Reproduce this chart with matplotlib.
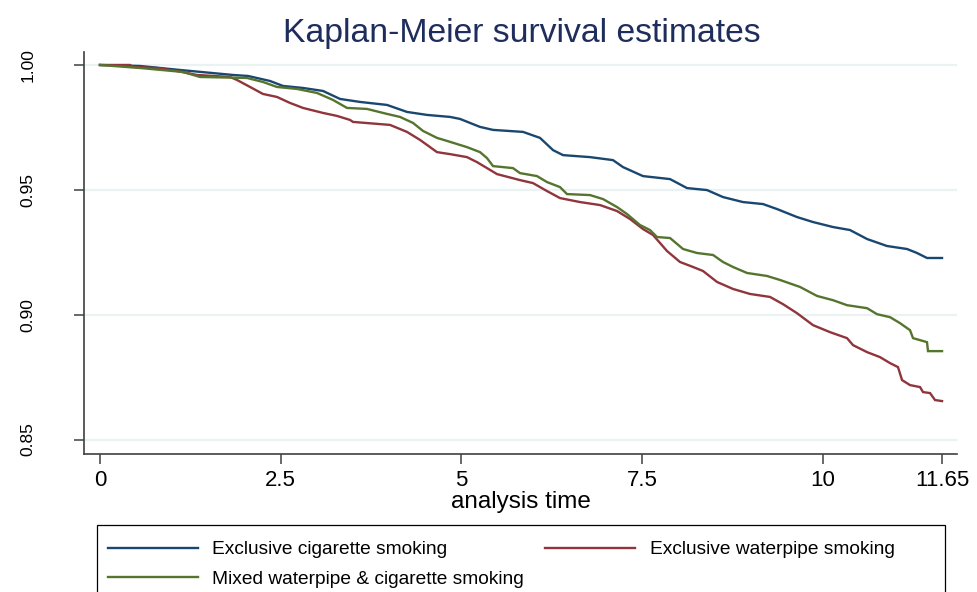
import matplotlib
matplotlib.use("Agg")
import matplotlib.pyplot as plt
from matplotlib.patches import Rectangle

plt.rcParams['font.family'] = ['Liberation Sans', 'DejaVu Sans']

# ---- data ----
cig_t = [0.000, 0.553, 1.107, 1.840, 2.047, 2.351, 2.531, 2.808, 3.084, 3.320, 3.596, 3.970,
         4.246, 4.523, 4.841, 4.979, 5.256, 5.436, 5.851, 6.086, 6.266, 6.404, 6.777, 7.095,
         7.234, 7.510, 7.884, 8.119, 8.396, 8.617, 8.893, 9.170, 9.364, 9.640, 9.862, 10.138,
         10.373, 10.609, 10.885, 11.162, 11.300, 11.438, 11.646]
cig_s = [1.0000, 0.9996, 0.9980, 0.9960, 0.9956, 0.9936, 0.9916, 0.9908, 0.9896, 0.9864, 0.9852, 0.9840,
         0.9812, 0.9800, 0.9792, 0.9784, 0.9752, 0.9740, 0.9732, 0.9708, 0.9659, 0.9639, 0.9631, 0.9619,
         0.9591, 0.9555, 0.9543, 0.9507, 0.9499, 0.9471, 0.9451, 0.9443, 0.9423, 0.9391, 0.9371, 0.9351,
         0.9339, 0.9303, 0.9275, 0.9263, 0.9247, 0.9227, 0.9227]

wp_t = [0.000, 0.415, 0.456, 0.788, 1.065, 1.342, 1.798, 1.895, 2.075, 2.254, 2.448, 2.628, 2.808,
        3.084, 3.278, 3.458, 3.499, 4.011, 4.246, 4.426, 4.661, 4.841, 5.076, 5.214, 5.353, 5.491,
        5.809, 5.989, 6.183, 6.362, 6.639, 6.916, 7.151, 7.331, 7.510, 7.649, 7.746, 7.842, 8.022,
        8.202, 8.340, 8.534, 8.755, 8.990, 9.267, 9.447, 9.640, 9.862, 10.097, 10.332, 10.415,
        10.609, 10.788, 10.927, 11.037, 11.093, 11.203, 11.342, 11.383, 11.480, 11.549, 11.646]
wp_s = [1.0000, 1.0000, 0.9992, 0.9988, 0.9976, 0.9960, 0.9952, 0.9940, 0.9912, 0.9884, 0.9872, 0.9848, 0.9828,
        0.9808, 0.9796, 0.9780, 0.9772, 0.9760, 0.9732, 0.9700, 0.9651, 0.9643, 0.9631, 0.9611, 0.9587, 0.9563,
        0.9539, 0.9527, 0.9495, 0.9467, 0.9451, 0.9439, 0.9415, 0.9383, 0.9343, 0.9319, 0.9287, 0.9255, 0.9211,
        0.9191, 0.9175, 0.9131, 0.9103, 0.9083, 0.9071, 0.9042, 0.9006, 0.8958, 0.8930, 0.8906, 0.8878,
        0.8850, 0.8830, 0.8806, 0.8790, 0.8738, 0.8718, 0.8710, 0.8690, 0.8686, 0.8658, 0.8654]

mix_t = [0.000, 0.553, 1.148, 1.383, 2.033, 2.254, 2.448, 2.725, 3.001, 3.223, 3.416, 3.693, 3.970,
         4.149, 4.329, 4.467, 4.661, 4.799, 5.076, 5.256, 5.353, 5.436, 5.712, 5.809, 6.044, 6.183,
         6.362, 6.459, 6.777, 6.957, 7.151, 7.289, 7.469, 7.607, 7.704, 7.884, 8.064, 8.257, 8.479,
         8.617, 8.755, 8.949, 9.225, 9.405, 9.682, 9.917, 10.138, 10.332, 10.609, 10.747, 10.927,
         11.065, 11.203, 11.245, 11.438, 11.452, 11.646]
mix_s = [1.0000, 0.9988, 0.9972, 0.9952, 0.9948, 0.9932, 0.9912, 0.9904, 0.9888, 0.9860, 0.9828, 0.9824, 0.9804,
         0.9792, 0.9768, 0.9736, 0.9708, 0.9696, 0.9671, 0.9651, 0.9627, 0.9595, 0.9587, 0.9567, 0.9555, 0.9531,
         0.9511, 0.9483, 0.9479, 0.9463, 0.9431, 0.9403, 0.9359, 0.9339, 0.9311, 0.9307, 0.9263, 0.9247, 0.9239,
         0.9211, 0.9191, 0.9167, 0.9155, 0.9139, 0.9111, 0.9075, 0.9058, 0.9038, 0.9026, 0.9002, 0.8990,
         0.8966, 0.8938, 0.8906, 0.8890, 0.8854, 0.8854]

labels = ["Exclusive cigarette smoking", "Exclusive waterpipe smoking",
          "Mixed waterpipe & cigarette smoking"]
colors = ["#1a476f", "#90353b", "#55752f"]

x_ticks = [0, 2.5, 5, 7.5, 10, 11.65]
x_ticklabels = ["0", "2.5", "5", "7.5", "10", "11.65"]
y_ticks = [0.85, 0.90, 0.95, 1.00]
y_ticklabels = ["0.85", "0.90", "0.95", "1.00"]

# ---- figure ----
W, H = 977, 592
fig = plt.figure(figsize=(W / 100, H / 100), dpi=100)
fig.patch.set_facecolor("white")
ax = fig.add_axes([84 / W, 1 - 454 / H, (957 - 84) / W, (454 - 52) / H])

for yv in y_ticks:
    ax.axhline(yv, color="#eaf2f3", lw=1.6, zorder=0)

handles = []
for t, s, c, lab in [(cig_t, cig_s, colors[0], labels[0]),
                     (wp_t, wp_s, colors[1], labels[1]),
                     (mix_t, mix_s, colors[2], labels[2])]:
    h, = ax.plot(t, s, color=c, lw=1.7, label=lab, zorder=3,
                 solid_joinstyle="miter")
    handles.append(h)

ax.set_xlim(-0.221, 11.853)
ax.set_ylim(0.8442, 1.0052)

for sp in ["top", "right"]:
    ax.spines[sp].set_visible(False)
for sp in ["left", "bottom"]:
    ax.spines[sp].set_color("#404040")
    ax.spines[sp].set_linewidth(1.2)

ax.set_xticks(x_ticks)
ax.set_xticklabels(x_ticklabels, fontsize=16)
ax.set_yticks(y_ticks)
ax.set_yticklabels(y_ticklabels, fontsize=12.5, rotation=90, va="center")
ax.tick_params(axis="x", length=7, width=1.1, color="#404040", pad=4.5)
ax.tick_params(axis="y", length=7, width=1.1, color="#404040", pad=28)

fig.text(522 / W, 1 - 42 / H, "Kaplan-Meier survival estimates", ha="center",
         va="baseline", fontsize=24.3, color="#1f2d5c")
fig.text(521 / W, 1 - 508 / H, "analysis time", ha="center", va="baseline",
         fontsize=17.5, color="black")

# legend box (extends beyond bottom edge like the reference)
fig.patches.append(Rectangle((97 / W, -20 / H), (945 - 97) / W, (592 - 525 + 20) / H,
                             transform=fig.transFigure, fill=False, edgecolor="black",
                             linewidth=0.9, zorder=5))
fig.legend(handles=[handles[0], handles[2], handles[1]],
           labels=[labels[0], labels[2], labels[1]],
           ncol=2, loc="upper left", bbox_to_anchor=(108 / W, 1 - 541 / H),
           frameon=False, fontsize=13.8, borderpad=0, borderaxespad=0,
           handlelength=4.7, handletextpad=0.75, columnspacing=1.1,
           labelspacing=0.62)

fig.savefig("out.png", dpi=100, facecolor="white")
